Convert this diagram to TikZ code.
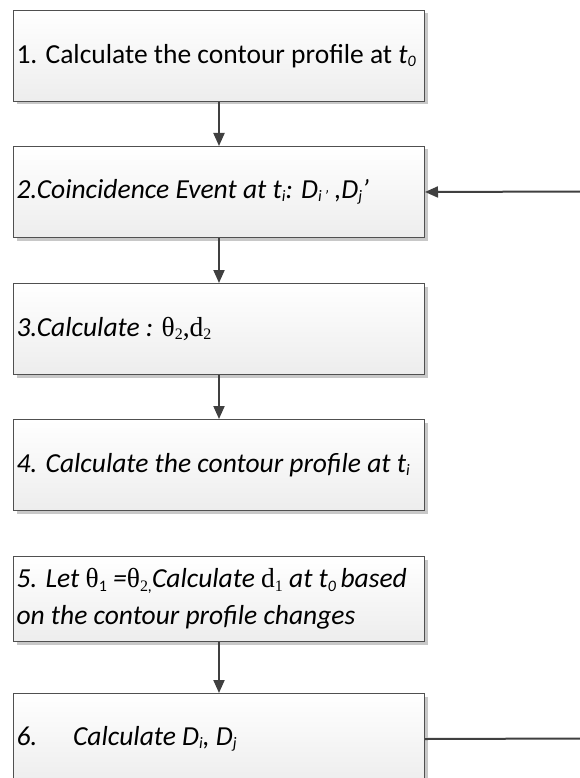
\documentclass[tikz,border=0pt]{standalone}
\usepackage{fontspec}
\setmainfont{Carlito}
\newfontfamily\tms{Liberation Serif}
\usetikzlibrary{arrows.meta,shadows}
\definecolor{boxline}{HTML}{505050}
\definecolor{boxbot}{HTML}{EDEDED}
\definecolor{shadowc}{HTML}{C8C8C8}
\definecolor{arrc}{HTML}{404040}
\newcommand{\sbs}[1]{\raisebox{-0.12em}{\fontsize{16}{16}\selectfont #1}}
\begin{document}
\begin{tikzpicture}[x=1pt,y=-1pt,
  box/.style={draw=boxline, line width=1pt, top color=white, bottom color=boxbot,
    drop shadow={shadow xshift=3pt,shadow yshift=-3pt,fill=shadowc,opacity=1},
    minimum width=411pt, minimum height=91pt, text width=405pt, inner xsep=3pt,
    align=flush left, font=\fontsize{27.5}{37}\selectfont, anchor=north west},
  arr/.style={draw=arrc, line width=2pt, -{Triangle[width=11pt,length=13pt]}},
  plainline/.style={draw=arrc, line width=2pt}]
\clip (0,0) rectangle (580,778);
\fill[white] (0,0) rectangle (580,778);
\node[box] (b1) at (13,10) {\mbox{1. Calculate the contour profile at \textit{t\sbs{0}}}};
\node[box] (b2) at (13,146) {\textit{2.Coincidence Event at t\sbs{i}: D\sbs{i\,’} ,D\sbs{j}’}};
\node[box] (b3) at (13,283) {\textit{3.Calculate :} {\tms θ\sbs{2},d\sbs{2}}};
\node[box] (b4) at (13,419) {\textit{4. Calculate the contour profile at t\sbs{i}}};
\node[box, minimum height=85pt] (b5) at (13,556) {\mbox{\textit{5. Let }{\tms θ}\sbs{1} \textit{=}{\tms θ\sbs{2}}\textit{\sbs{,}Calculate }{\tms d\sbs{1}}\textit{ at t\sbs{0}\,based}}\\\textit{on the contour profile changes}};
\node[box] (b6) at (13,693) {\textit{6.\hspace{1.3em}Calculate D\sbs{i}, D\sbs{j}}};
\coordinate (r2) at (580,191.5);
\coordinate (r6) at (580,738.5);
\draw[arr] (b1.south) -- (b2.north);
\draw[arr] (b2.south) -- (b3.north);
\draw[arr] (b3.south) -- (b4.north);
\draw[arr] (b5.south) -- (b6.north);
\draw[arr] (r2) -- (b2.east);
\draw[plainline] (b6.east) -- (r6);
\end{tikzpicture}
\end{document}
